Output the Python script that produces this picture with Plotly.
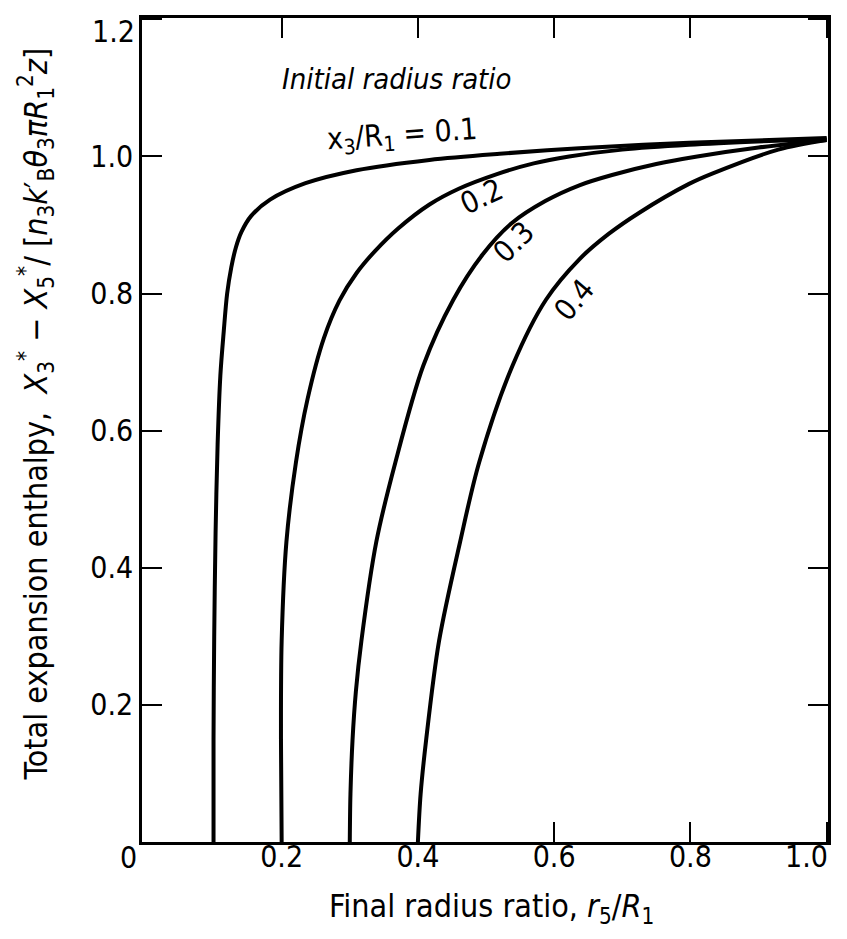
import plotly.graph_objects as go

# ---- data ----
x_01 = [0.100, 0.100, 0.101, 0.103, 0.106, 0.110, 0.115, 0.120, 0.126, 0.133, 0.141, 0.155, 0.183, 0.235, 0.310, 0.417, 0.520, 0.637, 0.798, 1.000]
y_01 = [0.000, 0.150, 0.300, 0.450, 0.580, 0.680, 0.745, 0.800, 0.838, 0.868, 0.890, 0.913, 0.937, 0.961, 0.980, 0.995, 1.004, 1.012, 1.020, 1.027]

x_02 = [0.200, 0.199, 0.200, 0.207, 0.221, 0.238, 0.262, 0.285, 0.310, 0.337, 0.371, 0.417, 0.460, 0.515, 0.570, 0.622, 0.700, 0.798, 1.000]
y_02 = [0.000, 0.150, 0.293, 0.438, 0.554, 0.646, 0.735, 0.790, 0.830, 0.862, 0.895, 0.930, 0.953, 0.974, 0.990, 1.000, 1.010, 1.017, 1.026]

x_03 = [0.300, 0.301, 0.304, 0.309, 0.317, 0.339, 0.367, 0.408, 0.452, 0.495, 0.538, 0.587, 0.637, 0.685, 0.750, 0.810, 0.900, 1.000]
y_03 = [0.000, 0.070, 0.148, 0.220, 0.293, 0.438, 0.554, 0.695, 0.791, 0.857, 0.903, 0.935, 0.958, 0.973, 0.989, 1.000, 1.013, 1.024]

x_04 = [0.400, 0.404, 0.412, 0.431, 0.462, 0.490, 0.539, 0.588, 0.637, 0.680, 0.725, 0.798, 0.832, 0.929, 1.000]
y_04 = [0.000, 0.070, 0.148, 0.293, 0.438, 0.554, 0.695, 0.791, 0.850, 0.887, 0.918, 0.960, 0.975, 1.010, 1.024]

curve_labels = ["0.2", "0.3", "0.4"]
curve_label_x = [0.493, 0.541, 0.629]
curve_label_y = [0.942, 0.876, 0.792]
curve_label_angle = [-25, -45, -50]

x_ticks = [0.2, 0.4, 0.6, 0.8, 1.0]
x_ticktext = ["0.2", "0.4", "0.6", "0.8", ""]
y_ticks = [0.2, 0.4, 0.6, 0.8, 1.0, 1.2]
y_ticktext = ["0.2", "0.4", "0.6", "0.8", "1.0", ""]

FONT = "DejaVu Sans Condensed, Liberation Sans Narrow, DejaVu Sans, sans-serif"

fig = go.Figure()
for xs, ys in [(x_01, y_01), (x_02, y_02), (x_03, y_03), (x_04, y_04)]:
    fig.add_trace(go.Scatter(x=xs, y=ys, mode="lines",
                             line=dict(color="black", width=4, shape="spline", smoothing=0.9),
                             showlegend=False, hoverinfo="skip"))

annotations = []
for t, ax_, ay_, ang in zip(curve_labels, curve_label_x, curve_label_y, curve_label_angle):
    annotations.append(dict(x=ax_, y=ay_, xref="x", yref="y", text=t, showarrow=False,
                            textangle=ang, font=dict(size=30, color="black", family=FONT)))

annotations.append(dict(x=0.369, y=1.113, xref="x", yref="y", text="<i>Initial radius ratio</i>",
                        showarrow=False, font=dict(size=29, color="black", family=FONT)))
annotations.append(dict(x=0.377, y=1.031, xref="x", yref="y",
                        text="x<sub>3</sub>/R<sub>1</sub> = 0.1", textangle=-4,
                        showarrow=False, font=dict(size=30, color="black", family=FONT)))
# corner / end labels placed like the reference (offset from the axis ends)
annotations.append(dict(x=0, y=0, xref="x", yref="y", text="0", showarrow=False,
                        xshift=-17, yshift=-15, yanchor="middle",
                        font=dict(size=30, color="black", family=FONT)))
annotations.append(dict(x=1.0, y=0, xref="x", yref="y", text="1.0", showarrow=False,
                        xshift=-20, yshift=-14, yanchor="middle",
                        font=dict(size=30, color="black", family=FONT)))
annotations.append(dict(x=0, y=1.2, xref="x", yref="y", text="1.2", showarrow=False,
                        xanchor="right", xshift=-8, yshift=-12, yanchor="middle",
                        font=dict(size=30, color="black", family=FONT)))
annotations.append(dict(x=0.509, y=-0.080, xref="paper", yref="paper", yanchor="middle",
                        text="Final radius ratio, <i>r</i><sub>5</sub>/<i>R</i><sub>1</sub>",
                        showarrow=False, font=dict(size=32, color="black", family=FONT)))
annotations.append(dict(x=-0.156, y=0.52, xref="paper", yref="paper", textangle=-90,
                        xanchor="center", yanchor="middle",
                        text="Total expansion enthalpy,  <i>X</i><sub>3</sub><sup>*</sup> − <i>X</i><sub>5</sub><sup>*</sup>/ [<i>n</i><sub>3</sub><i>k</i>′<sub>B</sub><i>θ</i><sub>3</sub><i>π</i><i>R</i><sub>1</sub><sup>2</sup><i>z</i>]",
                        showarrow=False, font=dict(size=32, color="black", family=FONT)))

# page body has an 8px margin: compensate so the plot box lands where the reference has it
fig.update_layout(
    width=839, height=931,
    margin=dict(l=134, r=19, t=7, b=97),
    paper_bgcolor="white", plot_bgcolor="white",
    annotations=annotations,
    showlegend=False,
)
fig.update_xaxes(range=[-0.005, 1.002], tickvals=x_ticks, ticktext=x_ticktext,
                 ticks="inside", ticklen=20, tickwidth=2, tickcolor="black",
                 showline=True, linewidth=2.5, linecolor="black", mirror="ticks",
                 showgrid=False, zeroline=False, ticklabelstandoff=-14,
                 tickfont=dict(size=30, color="black", family=FONT))
fig.update_yaxes(range=[0, 1.202], tickvals=y_ticks, ticktext=y_ticktext,
                 ticks="inside", ticklen=20, tickwidth=2, tickcolor="black",
                 showline=True, linewidth=2.5, linecolor="black", mirror="ticks",
                 showgrid=False, zeroline=False,
                 tickfont=dict(size=30, color="black", family=FONT))

fig.write_html("out.html")
